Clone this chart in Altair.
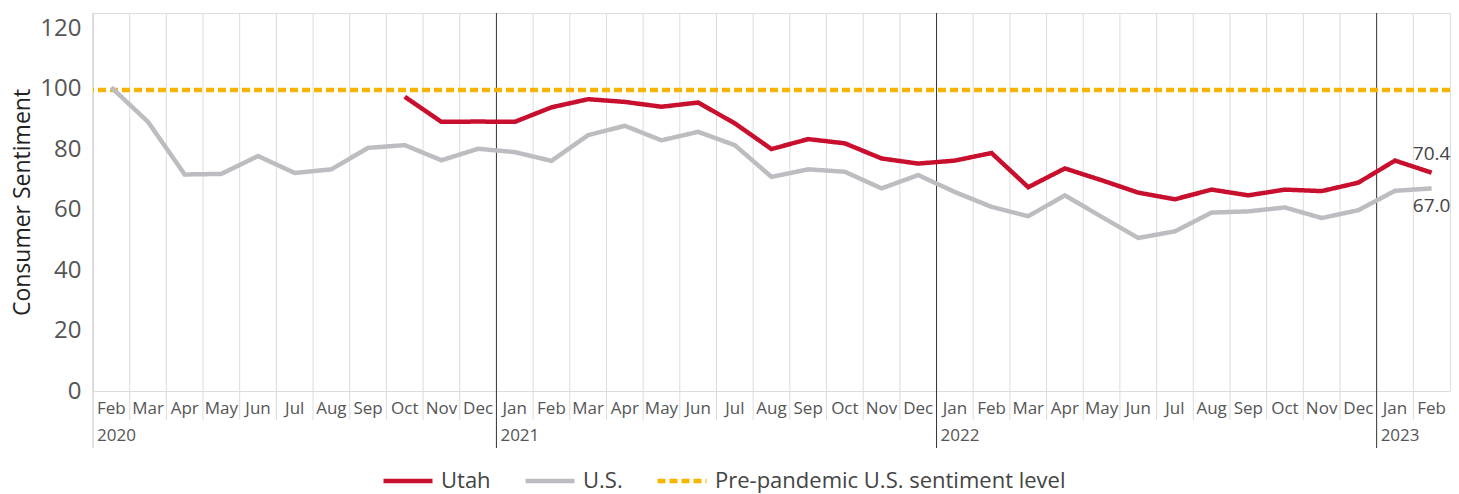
import altair as alt
import pandas as pd

# ---------------- data ----------------
months = ["Feb", "Mar", "Apr", "May", "Jun", "Jul", "Aug", "Sep", "Oct", "Nov", "Dec",
          "Jan", "Feb", "Mar", "Apr", "May", "Jun", "Jul", "Aug", "Sep", "Oct", "Nov", "Dec",
          "Jan", "Feb", "Mar", "Apr", "May", "Jun", "Jul", "Aug", "Sep", "Oct", "Nov", "Dec",
          "Jan", "Feb"]
year_labels = ["2020", "2021", "2022", "2023"]
year_start_idx = [0, 11, 23, 35]

us = [100.4, 89.0, 71.6, 71.8, 77.7, 72.1, 73.3, 80.4, 81.3, 76.3, 80.1,
      79.0, 76.1, 84.6, 87.7, 82.9, 85.7, 81.3, 70.8, 73.3, 72.5, 67.0, 71.4,
      65.8, 60.9, 57.8, 64.7, 57.6, 50.6, 52.8, 59.0, 59.4, 60.7, 57.2, 59.8,
      66.2, 67.0]
utah = [None] * 8 + [97.3, 89.0, 89.1,
        89.0, 93.8, 96.5, 95.6, 94.0, 95.4, 88.5, 80.0, 83.3, 81.9, 76.9, 75.2,
        76.2, 78.7, 67.4, 73.6, 69.7, 65.6, 63.4, 66.6, 64.7, 66.6, 66.1, 68.9,
        76.2, 72.2]
pre_pandemic_level = 99.5
end_label_utah = "70.4"
end_label_us = "67.0"

series_names = ["Utah", "U.S.", "Pre-pandemic U.S. sentiment level"]
series_colors = ["#c8102e", "#bdbdc1", "#f7b500"]

# ---------------- tables ----------------
rows = []
for i, v in enumerate(utah):
    if v is not None:
        rows.append({"i": i, "value": v, "series": "Utah"})
for i, v in enumerate(us):
    rows.append({"i": i, "value": v, "series": "U.S."})
lines_df = pd.DataFrame(rows)
ref_df = pd.DataFrame([{"value": pre_pandemic_level, "series": series_names[2]}])

months_df = pd.DataFrame({"i": list(range(len(months))), "month": months})
years_df = pd.DataFrame({"i": year_start_idx, "year": year_labels})
ends_df = pd.DataFrame([
    {"i": len(months) - 1, "value": utah[-1], "label": end_label_utah, "series": "Utah"},
    {"i": len(months) - 1, "value": us[-1], "label": end_label_us, "series": "U.S."},
])

W, H = 1357, 378
LABEL_FONT = "Open Sans"
MAIN_FONT = "Open Sans"

xscale = alt.Scale(domain=[-0.5, len(months) - 0.5], nice=False, zero=False)
yscale = alt.Scale(domain=[0, 125], nice=False)

color_scale = alt.Scale(domain=series_names, range=series_colors)
dash_scale = alt.Scale(domain=series_names, range=[[1, 0], [1, 0], [8, 4]])
width_scale = alt.Scale(domain=series_names, range=[4.5, 4.5, 1.6])

x_axis = alt.Axis(
    values=list(range(len(months))), labels=False,
    title=None, grid=False, ticks=False,
    domain=True, domainColor="#dcdcdc", domainWidth=1.5,
)
y_axis = alt.Axis(
    values=[0, 20, 40, 60, 80, 100, 120],
    title="Consumer Sentiment", grid=False, ticks=False, domain=False,
    labelFont=MAIN_FONT, labelFontSize=24, labelColor="#555555", labelPadding=12,
    titleFont=MAIN_FONT, titleFontSize=23, titleColor="#222222",
    titleFontWeight="normal", titlePadding=5,
)

base_x = alt.X("b:Q", scale=xscale, axis=None)
month_idx = list(range(len(months)))

grid_month = alt.Chart(months_df).transform_filter(
    alt.FieldOneOfPredicate(field="i", oneOf=[j for j in month_idx if j not in year_start_idx])
).transform_calculate(b="datum.i - 0.5").mark_rule(color="#dcdcdc", strokeWidth=1).encode(
    x=base_x, y=alt.value(0), y2=alt.value(H + 29))

grid_first = alt.Chart(months_df).transform_filter(
    alt.FieldOneOfPredicate(field="i", oneOf=[0])
).transform_calculate(b="datum.i - 0.5").mark_rule(color="#d0d0d0", strokeWidth=1.2).encode(
    x=base_x, y=alt.value(0), y2=alt.value(H + 57))

grid_year = alt.Chart(months_df).transform_filter(
    alt.FieldOneOfPredicate(field="i", oneOf=year_start_idx[1:])
).transform_calculate(b="datum.i - 0.5").mark_rule(color="#333333", strokeWidth=1).encode(
    x=base_x, y=alt.value(0), y2=alt.value(H + 57))

enc_common = dict(
    color=alt.Color("series:N", scale=color_scale, title=None,
                    legend=alt.Legend(orient="none", direction="horizontal",
                                      legendX=288, legendY=H + 63,
                                      symbolType="stroke", symbolSize=2400,
                                      labelFont=MAIN_FONT, labelFontSize=22,
                                      labelColor="#444444", labelLimit=600,
                                      columnPadding=25, labelOffset=6)),
    strokeDash=alt.StrokeDash("series:N", scale=dash_scale, title=None),
    strokeWidth=alt.StrokeWidth("series:N", scale=width_scale, title=None),
)

ref_rule = alt.Chart(ref_df).mark_rule().encode(
    y=alt.Y("value:Q", scale=yscale, axis=y_axis), **enc_common)

lines = alt.Chart(lines_df).mark_line(strokeJoin="miter").encode(
    x=alt.X("i:Q", scale=xscale, axis=x_axis),
    y=alt.Y("value:Q", scale=yscale, axis=y_axis),
    order="i:Q",
    **enc_common,
)

month_text = alt.Chart(months_df).mark_text(
    align="center", baseline="top", font=LABEL_FONT, fontSize=17, color="#555555"
).encode(x=alt.X("i:Q", scale=xscale), y=alt.value(H + 10), text="month:N")

years_text = alt.Chart(years_df).transform_calculate(b="datum.i - 0.5").mark_text(
    align="left", baseline="top", dx=4, font=LABEL_FONT, fontSize=17, color="#555555"
).encode(x=base_x, y=alt.value(H + 37), text="year:N")

end_utah = alt.Chart(ends_df).transform_filter(alt.datum.series == "Utah").mark_text(
    align="center", baseline="middle", dy=-19, font=LABEL_FONT, fontSize=19, color="#444444"
).encode(x=alt.X("i:Q", scale=xscale), y=alt.Y("value:Q", scale=yscale), text="label:N")

end_us = alt.Chart(ends_df).transform_filter(alt.datum.series == "U.S.").mark_text(
    align="center", baseline="middle", dy=18, font=LABEL_FONT, fontSize=19, color="#444444"
).encode(x=alt.X("i:Q", scale=xscale), y=alt.Y("value:Q", scale=yscale), text="label:N")

chart = alt.layer(
    grid_month, grid_first, grid_year, ref_rule, lines, month_text, years_text, end_utah, end_us
).properties(
    width=W, height=H,
    autosize=alt.AutoSizeParams(type="none"),
    padding={"left": 85, "top": 5, "right": 1, "bottom": 104},
).configure_view(stroke=None).configure(background="white")

chart.save("out.html", embed_options={"renderer": "svg", "actions": False})
